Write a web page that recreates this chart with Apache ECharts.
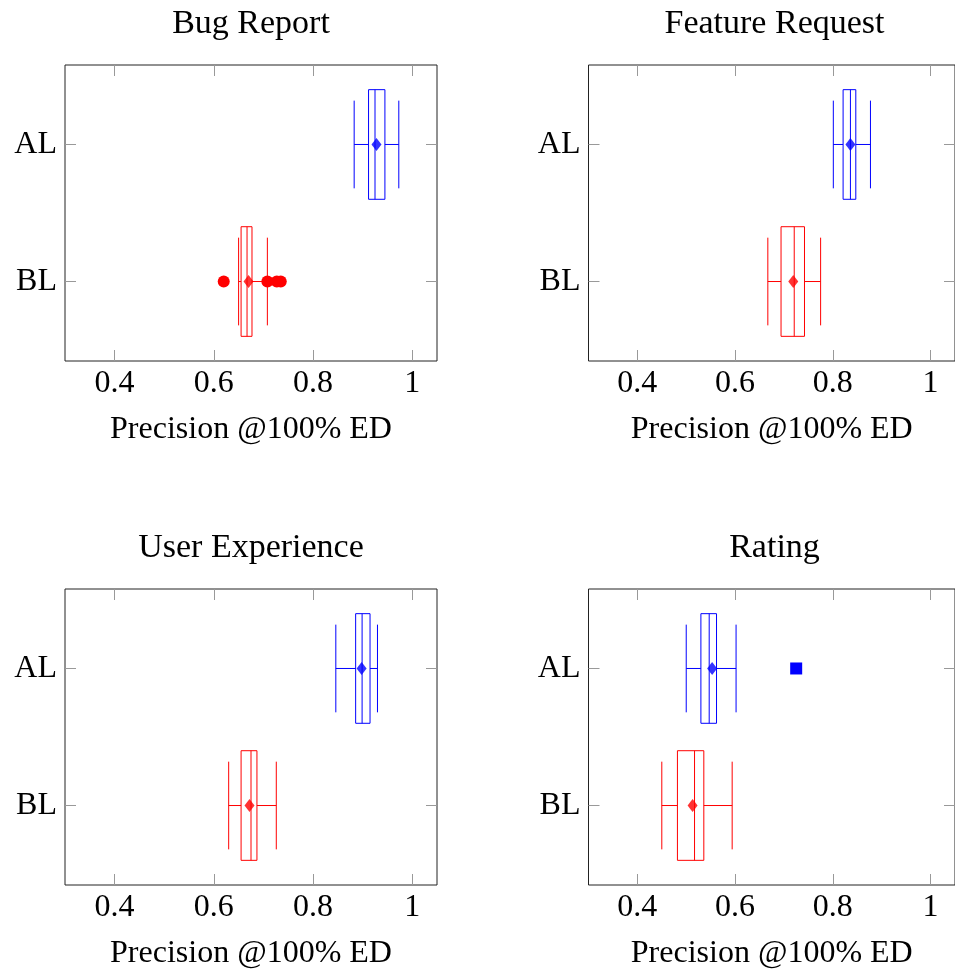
<!DOCTYPE html>
<html>
<head>
<meta charset="utf-8">
<script src="https://cdn.jsdelivr.net/npm/echarts@6/dist/echarts.min.js"></script>
<style>
  body { margin: 0; background: #fff; }
  #chart { width: 955px; height: 971px; }
</style>
</head>
<body>
<div id="chart"></div>
<script>
// categories on the y axis, BL at 1, AL at 2
const categories = ['BL', 'AL'];
const panelTitles = ['Bug Report', 'Feature Request', 'User Experience', 'Rating'];
const xTickValues = [0.4, 0.6, 0.8, 1];
const xName = 'Precision @100% ED';

// [lower whisker, q1, median, q3, upper whisker]
const bugBL = [0.650, 0.655, 0.667, 0.677, 0.708];
const bugAL = [0.883, 0.912, 0.925, 0.945, 0.973];
const featureBL = [0.667, 0.694, 0.721, 0.742, 0.775];
const featureAL = [0.801, 0.821, 0.836, 0.847, 0.877];
const uxBL = [0.630, 0.655, 0.675, 0.687, 0.726];
const uxAL = [0.846, 0.886, 0.899, 0.915, 0.930];
const ratingBL = [0.450, 0.482, 0.517, 0.536, 0.594];
const ratingAL = [0.500, 0.530, 0.547, 0.562, 0.602];

// means [BL, AL]
const bugMeans = [0.670, 0.928];
const featureMeans = [0.719, 0.836];
const uxMeans = [0.672, 0.898];
const ratingMeans = [0.513, 0.553];

// outliers
const bugBLOutliers = [0.620, 0.708, 0.727, 0.735];
const ratingALOutliers = [0.725];

const panels = [
    {bl: bugBL, al: bugAL, means: bugMeans, blOut: bugBLOutliers, alOut: []},
    {bl: featureBL, al: featureAL, means: featureMeans, blOut: [], alOut: []},
    {bl: uxBL, al: uxAL, means: uxMeans, blOut: [], alOut: []},
    {bl: ratingBL, al: ratingAL, means: ratingMeans, blOut: [], alOut: ratingALOutliers}
];

const RED = '#ff0000';
const BLUE = '#0000ff';
const FONT = 'Liberation Serif';
const gridLefts = [65, 588.5];
const gridTops = [65, 589];
const gridW = 372, gridH = 296;

function renderBox(params, api) {
    const y = api.value(0);
    const lw = api.value(1), q1 = api.value(2), med = api.value(3), q3 = api.value(4), uw = api.value(5);
    const color = api.visual('color');
    const boxTop = api.coord([q1, y + 0.4])[1];
    const boxBot = api.coord([q1, y - 0.4])[1];
    const capTop = api.coord([lw, y + 0.32])[1];
    const capBot = api.coord([lw, y - 0.32])[1];
    const cy = api.coord([lw, y])[1];
    const xl = api.coord([lw, y])[0];
    const x1 = api.coord([q1, y])[0];
    const xm = api.coord([med, y])[0];
    const x3 = api.coord([q3, y])[0];
    const xu = api.coord([uw, y])[0];
    const st = {stroke: color, lineWidth: 1, fill: null};
    const line = (a, b, c, d) => ({type: 'line', shape: {x1: a, y1: b, x2: c, y2: d}, style: st});
    return {
        type: 'group',
        children: [
            {type: 'rect', shape: {x: x1, y: boxTop, width: x3 - x1, height: boxBot - boxTop}, style: st},
            line(xm, boxTop, xm, boxBot),
            line(xl, cy, x1, cy),
            line(x3, cy, xu, cy),
            line(xl, capTop, xl, capBot),
            line(xu, capTop, xu, capBot)
        ]
    };
}

const grids = [], xAxes = [], yAxes = [], series = [], titles = [];
const tick = {show: true, inside: true, length: 11, lineStyle: {color: '#999', width: 1}};

panels.forEach(function (p, i) {
    const left = gridLefts[i % 2];
    const top = gridTops[Math.floor(i / 2)];
    grids.push({left: left, top: top, width: gridW, height: gridH, show: true,
        borderColor: '#222', borderWidth: 1, backgroundColor: 'transparent'});
    titles.push({text: panelTitles[i], left: left + gridW / 2 - 5, top: top - 63, textAlign: 'center',
        textStyle: {fontFamily: FONT, fontSize: 34, fontWeight: 'normal', color: '#000'}});
    const xBase = {type: 'value', gridIndex: i, min: 0.3, max: 1.05,
        axisLine: {show: false}, splitLine: {show: false},
        axisTick: Object.assign({customValues: xTickValues}, tick)};
    xAxes.push(Object.assign({}, xBase, {position: 'bottom', name: xName, nameLocation: 'middle', nameGap: 53,
        nameTextStyle: {fontFamily: FONT, fontSize: 32, color: '#000'},
        axisLabel: {customValues: xTickValues, margin: 7, fontFamily: FONT, fontSize: 32, color: '#000',
            formatter: v => String(+v.toFixed(2))}}));
    xAxes.push(Object.assign({}, xBase, {position: 'top', axisLabel: {show: false}}));
    const yBase = {type: 'value', gridIndex: i, min: 0.42, max: 2.58,
        axisLine: {show: false}, splitLine: {show: false},
        axisTick: Object.assign({customValues: [1, 2]}, tick)};
    yAxes.push(Object.assign({}, yBase, {position: 'left',
        axisLabel: {customValues: [1, 2], margin: 8, fontFamily: FONT, fontSize: 32, color: '#000',
            formatter: v => categories[Math.round(v) - 1]}}));
    yAxes.push(Object.assign({}, yBase, {position: 'right', axisLabel: {show: false}}));

    const xi = 2 * i, yi = 2 * i;
    [[p.bl, 1, RED], [p.al, 2, BLUE]].forEach(function (g) {
        series.push({type: 'custom', xAxisIndex: xi, yAxisIndex: yi, renderItem: renderBox,
            itemStyle: {color: g[2]}, encode: {x: [1, 2, 3, 4, 5], y: 0},
            data: [[g[1]].concat(g[0])], silent: true, z: 2});
    });
    series.push({type: 'scatter', xAxisIndex: xi, yAxisIndex: yi, symbol: 'diamond', symbolSize: [10, 13],
        data: [{value: [p.means[0], 1], itemStyle: {color: RED}}, {value: [p.means[1], 2], itemStyle: {color: BLUE}}],
        silent: true, z: 3});
    if (p.blOut.length) {
        series.push({type: 'scatter', xAxisIndex: xi, yAxisIndex: yi, symbol: 'circle', symbolSize: 12,
            itemStyle: {color: RED, opacity: 1}, data: p.blOut.map(v => [v, 1]), silent: true, z: 3});
    }
    if (p.alOut.length) {
        series.push({type: 'scatter', xAxisIndex: xi, yAxisIndex: yi, symbol: 'rect', symbolSize: 12,
            itemStyle: {color: BLUE, opacity: 1}, data: p.alOut.map(v => [v, 2]), silent: true, z: 3});
    }
});

const chart = echarts.init(document.getElementById('chart'), null, {renderer: 'canvas'});
chart.setOption({
    animation: false,
    backgroundColor: '#fff',
    title: titles,
    grid: grids,
    xAxis: xAxes,
    yAxis: yAxes,
    series: series
});
</script>
</body>
</html>
